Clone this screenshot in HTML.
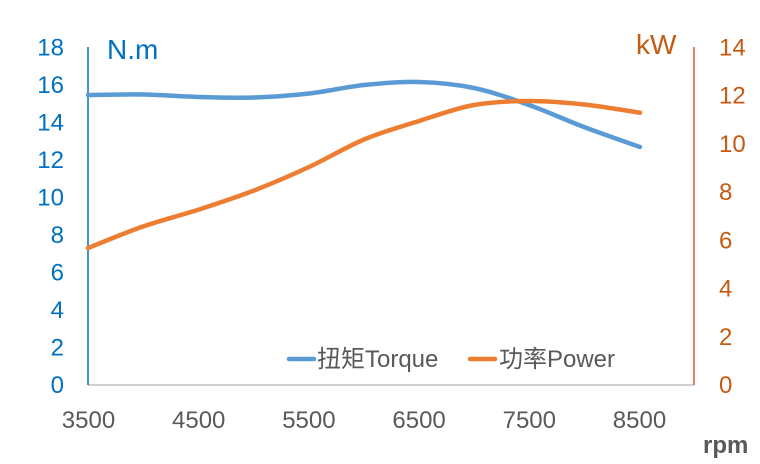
<!DOCTYPE html>
<html>
<head>
<meta charset="utf-8">
<style>
  html, body { margin: 0; padding: 0; background: #ffffff; }
  svg { display: block; }
  text { font-family: "Liberation Sans", "Noto Sans CJK SC", sans-serif; }
</style>
</head>
<body>
<svg width="760" height="464" viewBox="0 0 760 464" xmlns="http://www.w3.org/2000/svg">
  <rect width="760" height="464" fill="#ffffff"/>

  <!-- axes -->
  <line x1="88" y1="385" x2="694" y2="385" stroke="#BFBFBF" stroke-width="1.5"/>
  <line x1="88" y1="47" x2="88" y2="385" stroke="#0070C0" stroke-width="1.5"/>
  <line x1="694" y1="47" x2="694" y2="385" stroke="#E3572B" stroke-width="1.5"/>

  <!-- left tick labels -->
  <g font-size="24" fill="#0070C0" text-anchor="end">
    <text x="64" y="55.5">18</text>
    <text x="64" y="93">16</text>
    <text x="64" y="130.5">14</text>
    <text x="64" y="168">12</text>
    <text x="64" y="205.5">10</text>
    <text x="64" y="243">8</text>
    <text x="64" y="280.5">6</text>
    <text x="64" y="318">4</text>
    <text x="64" y="355.5">2</text>
    <text x="64" y="393">0</text>
  </g>

  <!-- right tick labels -->
  <g font-size="24" fill="#C55A11" text-anchor="start">
    <text x="719" y="55.5">14</text>
    <text x="719" y="103.7">12</text>
    <text x="719" y="151.9">10</text>
    <text x="719" y="200.1">8</text>
    <text x="719" y="248.3">6</text>
    <text x="719" y="296.6">4</text>
    <text x="719" y="344.8">2</text>
    <text x="719" y="393">0</text>
  </g>

  <!-- x tick labels -->
  <g font-size="24" fill="#595959" text-anchor="middle">
    <text x="88.5" y="428">3500</text>
    <text x="198.7" y="428">4500</text>
    <text x="308.9" y="428">5500</text>
    <text x="419.1" y="428">6500</text>
    <text x="529.3" y="428">7500</text>
    <text x="639.5" y="428">8500</text>
  </g>

  <!-- axis titles -->
  <text x="107" y="59" font-size="28" fill="#0070C0">N.m</text>
  <text x="636" y="54" font-size="28" fill="#C55A11">kW</text>
  <text x="703" y="453" font-size="24" font-weight="bold" fill="#595959">rpm</text>

  <!-- torque series -->
  <path d="M88,95 C97.2,94.9 124.5,94.17 143,94.5
           C161.5,94.83 180.5,96.5 199,97
           C217.5,97.5 235.7,98.08 254,97.5
           C272.3,96.92 290.7,95.58 309,93.5
           C327.3,91.42 345.7,86.92 364,85
           C382.3,83.08 400.7,81.5 419,82
           C437.3,82.5 455.7,84.17 474,88
           C492.3,91.83 510.7,98.5 529,105
           C547.3,111.5 565.5,120 584,127
           C602.5,134 630.7,143.67 640,147"
        fill="none" stroke="#5B9BD5" stroke-width="4.5" stroke-linecap="round" stroke-linejoin="round"/>

  <!-- power series -->
  <path d="M88,248 C97.2,244.4 124.5,232.9 143,226.5
           C161.5,220.1 180.5,215.5 199,209.5
           C217.5,203.5 235.7,197.6 254,190.5
           C272.3,183.4 290.7,175.5 309,167
           C327.3,158.5 345.7,147.2 364,139.5
           C382.3,131.8 400.7,126.75 419,121
           C437.3,115.25 455.7,108.3 474,105
           C492.3,101.7 510.7,101.1 529,101
           C547.3,100.9 565.5,102.55 584,104.5
           C602.5,106.45 630.7,111.3 640,112.7"
        fill="none" stroke="#ED7D31" stroke-width="4.5" stroke-linecap="round" stroke-linejoin="round"/>

  <!-- legend -->
  <line x1="289" y1="359" x2="314" y2="359" stroke="#5B9BD5" stroke-width="4.5" stroke-linecap="round"/>
  <text x="317" y="367" font-size="24" fill="#595959">扭矩Torque</text>
  <line x1="470" y1="359" x2="495" y2="359" stroke="#ED7D31" stroke-width="4.5" stroke-linecap="round"/>
  <text x="499" y="367" font-size="24" fill="#595959">功率Power</text>
</svg>
</body>
</html>
